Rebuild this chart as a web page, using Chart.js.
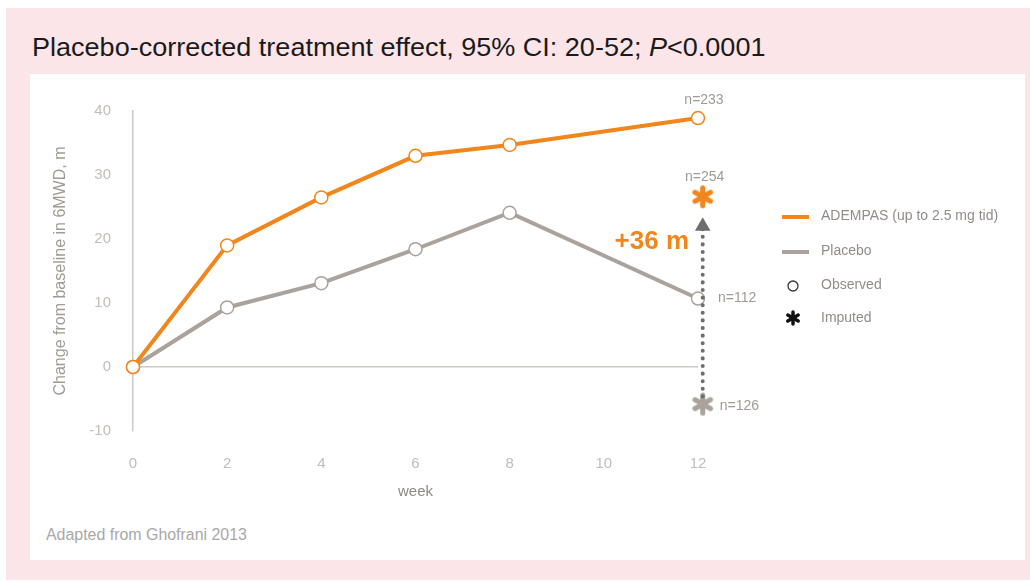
<!DOCTYPE html>
<html>
<head>
<meta charset="utf-8">
<script src="https://cdn.jsdelivr.net/npm/chart.js@4.4.1/dist/chart.umd.min.js"></script>
<style>
  body { margin: 0; width: 1030px; height: 581px; background: #fff; position: relative; overflow: hidden; }
  #pink { position: absolute; left: 6px; top: 8px; width: 1024px; height: 572px; background: #fce5e8; }
  #panel { position: absolute; left: 30px; top: 74px; width: 995px; height: 486px; background: #fff; }
  .narrow { position: absolute; font-family: "Liberation Sans", Arial, sans-serif; white-space: nowrap; transform-origin: 0 0; }
  #title { left: 32px; top: 33px; font-size: 25px; color: #1a1a1a; }
  #note { left: 46px; top: 526px; font-size: 16px; color: #a8a8a8; }
  #chart { position: absolute; left: 0; top: 0; }
</style>
</head>
<body>
<div id="pink"></div>
<div id="panel"></div>
<div id="title" class="narrow" data-w="733">Placebo-corrected treatment effect, 95% CI: 20-52; <i>P</i>&lt;0.0001</div>
<div id="note" class="narrow" data-w="201">Adapted from Ghofrani 2013</div>
<canvas id="chart" width="1030" height="581"></canvas>
<script>
// ===== DATA =====
const weeks = [0, 2, 4, 6, 8, 12];
const adempas = [0, 19.0, 26.5, 33.0, 34.7, 38.9];
const placebo = [0, 9.3, 13.1, 18.4, 24.1, 10.7];
const imputedWeek = 12.1;
const adempasImputed = 26.6;
const placeboImputed = -5.8;
const arrowTop = 22;
const nLabels = ['n=233', 'n=254', 'n=112', 'n=126'];
const effectLabel = '+36 m';
const legendLabels = ['ADEMPAS (up to 2.5 mg tid)', 'Placebo', 'Observed', 'Imputed'];

const ORANGE = '#f0861c';
const GREY = '#aaa29b';
const AXIS = '#cdc9c5';
const TICK = '#c2bdb8';

// squeeze the header / footnote text to a condensed look
document.querySelectorAll('.narrow').forEach(el => {
  el.style.transform = 'scaleX(' + (el.dataset.w / el.offsetWidth) + ')';
});

// ===== STAR MARKER =====
function makeStar(color, r, lw) {
  const size = Math.ceil(2 * r + lw + 2);
  const c = document.createElement('canvas');
  c.width = size; c.height = size;
  const g = c.getContext('2d');
  g.strokeStyle = color;
  g.lineWidth = lw;
  g.lineCap = 'round';
  const m = size / 2;
  for (let i = 0; i < 3; i++) {
    const a = Math.PI / 2 + i * Math.PI / 3;
    g.beginPath();
    g.moveTo(m - r * Math.cos(a), m - r * Math.sin(a));
    g.lineTo(m + r * Math.cos(a), m + r * Math.sin(a));
    g.stroke();
  }
  return c;
}
const orangeStar = makeStar(ORANGE, 9, 5);
const greyStar = makeStar(GREY, 9, 5);
const blackStar = makeStar('#111', 6, 3.5);

const toXY = (ys) => ys.map((y, i) => ({ x: weeks[i], y: y }));

// ===== TEXT + LEGEND PLUGIN =====
const annotations = {
  id: 'annotations',
  afterDatasetsDraw(chart) {
    const c = chart.ctx;
    const xs = chart.scales.x, ys = chart.scales.y;
    const x12 = xs.getPixelForValue(12);
    const xi = xs.getPixelForValue(imputedWeek);
    c.save();
    c.font = '14px "Liberation Sans", Arial, sans-serif';
    c.fillStyle = '#a09a95';
    c.textBaseline = 'middle';
    c.textAlign = 'center';
    c.fillText(nLabels[0], x12 + 6, ys.getPixelForValue(adempas[5]) - 18);
    c.fillText(nLabels[1], xi + 2, ys.getPixelForValue(adempasImputed) - 20);
    c.textAlign = 'left';
    c.fillText(nLabels[2], x12 + 20, ys.getPixelForValue(placebo[5]));
    c.fillText(nLabels[3], xi + 17, ys.getPixelForValue(placeboImputed) + 2);

    c.font = 'bold 26px "Liberation Sans", Arial, sans-serif';
    c.fillStyle = ORANGE;
    c.textAlign = 'right';
    c.fillText(effectLabel, x12 - 9, ys.getPixelForValue(19.5));

    // legend
    c.font = '14px "Liberation Sans", Arial, sans-serif';
    c.fillStyle = '#918c88';
    c.textAlign = 'left';
    const lx = 782, tx = 821;
    const rows = [216, 251, 285, 318];
    c.lineWidth = 4;
    c.strokeStyle = ORANGE;
    c.beginPath(); c.moveTo(lx, rows[0] + 1); c.lineTo(lx + 27, rows[0] + 1); c.stroke();
    c.strokeStyle = GREY;
    c.beginPath(); c.moveTo(lx, rows[1] + 1); c.lineTo(lx + 27, rows[1] + 1); c.stroke();
    c.lineWidth = 1.3;
    c.strokeStyle = '#333';
    c.beginPath(); c.arc(lx + 11, rows[2] + 1, 5, 0, Math.PI * 2); c.stroke();
    c.drawImage(blackStar, lx + 11 - blackStar.width / 2, rows[3] - blackStar.height / 2);
    legendLabels.forEach((t, i) => c.fillText(t, tx, rows[i]));
    c.restore();
  }
};

new Chart(document.getElementById('chart'), {
  type: 'line',
  data: {
    datasets: [
      {
        label: 'effect',
        data: [{ x: imputedWeek, y: placeboImputed + 1.2 }, { x: imputedWeek, y: arrowTop }],
        borderColor: '#6e6e6e',
        backgroundColor: '#6e6e6e',
        borderWidth: 4,
        borderDash: [0.1, 7.5],
        borderCapStyle: 'round',
        pointStyle: ['circle', 'triangle'],
        pointRadius: [0, 9],
        pointBorderWidth: 0,
        clip: false,
        order: 0
      },
      {
        label: 'Imputed ADEMPAS',
        data: [{ x: imputedWeek, y: adempasImputed }],
        showLine: false,
        pointStyle: orangeStar,
        clip: false,
        order: 1
      },
      {
        label: 'Imputed Placebo',
        data: [{ x: imputedWeek, y: placeboImputed }],
        showLine: false,
        pointStyle: greyStar,
        clip: false,
        order: 1
      },
      {
        label: 'ADEMPAS',
        data: toXY(adempas),
        borderColor: ORANGE,
        borderWidth: 4,
        pointBackgroundColor: '#fff',
        pointBorderColor: ORANGE,
        pointBorderWidth: 1.5,
        pointRadius: 6.5,
        clip: false,
        order: 2
      },
      {
        label: 'Placebo',
        data: toXY(placebo),
        borderColor: GREY,
        borderWidth: 4,
        pointBackgroundColor: '#fff',
        pointBorderColor: GREY,
        pointBorderWidth: 1.5,
        pointRadius: 6.5,
        clip: false,
        order: 3
      }
    ]
  },
  options: {
    responsive: false,
    animation: false,
    devicePixelRatio: 1,
    layout: { padding: { left: 51, top: 111, right: 332, bottom: 70 } },
    plugins: { legend: { display: false }, tooltip: { enabled: false } },
    scales: {
      x: {
        type: 'linear',
        min: 0,
        max: 12,
        afterFit(scale) { scale.height = 80; },
        grid: { display: false, drawTicks: false },
        border: { display: false },
        ticks: { stepSize: 2, padding: 24, color: TICK, font: { size: 15, family: '"Liberation Sans", Arial' } },
        title: { display: true, text: 'week', color: '#8e8985', padding: { top: 0, bottom: 10 },
                 font: { size: 15, family: '"Liberation Sans", Arial' } }
      },
      y: {
        min: -10,
        max: 40,
        afterFit(scale) { scale.width = 133 - 51; },
        grid: {
          drawTicks: false,
          color: (ctx) => ctx.tick && ctx.tick.value === 0 ? AXIS : 'transparent',
          lineWidth: 1.5
        },
        border: { display: true, color: AXIS, width: 1.5 },
        ticks: { stepSize: 10, padding: 22, color: TICK, font: { size: 15, family: '"Liberation Sans", Arial' } },
        title: { display: true, text: 'Change from baseline in 6MWD, m', color: '#a09a95', padding: 0,
                 font: { size: 16, family: '"Liberation Sans", Arial' } }
      }
    }
  },
  plugins: [annotations]
});
</script>
</body>
</html>
